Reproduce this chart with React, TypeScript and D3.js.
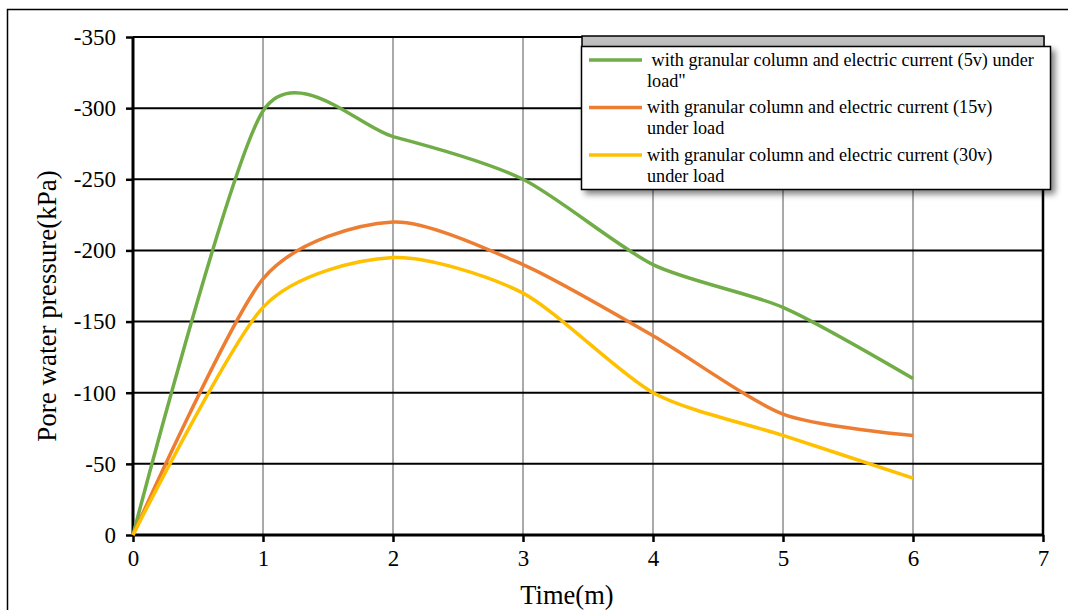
import React, { useRef, useEffect } from 'react';
import * as d3 from 'd3';

const times = [0, 1, 2, 3, 4, 5, 6];
const green5v = [0, -298, -280, -250, -190, -160, -110];
const orange15v = [0, -180, -220, -190, -140, -85, -70];
const yellow30v = [0, -160, -195, -170, -100, -70, -40];
const seriesNames = [
  [' with granular column and electric current (5v) under', 'load"'],
  ['with granular column and electric current (15v)', 'under load'],
  ['with granular column and electric current (30v)', 'under load'],
];
const seriesColors = ['#70ad47', '#ed7d31', '#ffc000'];
const xTicks = [0, 1, 2, 3, 4, 5, 6, 7];
const yTicks = [0, -50, -100, -150, -200, -250, -300, -350];

const App = () => {
  const svgRef = useRef<SVGSVGElement>(null);

  useEffect(() => {
    const svg = d3.select(svgRef.current);
    svg.selectAll('*').remove();
    const font = '"Liberation Serif", "Times New Roman", serif';

    const left = 133, right = 1043, top = 37, bottom = 535;
    const x = d3.scaleLinear().domain([0, 7]).range([left, right]);
    const y = d3.scaleLinear().domain([0, -350]).range([bottom, top]);

    // outer frame
    svg.append('path')
      .attr('d', `M7.5,620 L7.5,9.5 L1075,9.5`)
      .attr('fill', 'none').attr('stroke', '#000').attr('stroke-width', 1.5);

    // vertical grid
    svg.append('g').selectAll('line').data(xTicks.slice(1, -1)).join('line')
      .attr('x1', (d) => x(d)).attr('x2', (d) => x(d))
      .attr('y1', top).attr('y2', bottom)
      .attr('stroke', '#555').attr('stroke-width', 1);

    // horizontal grid
    svg.append('g').selectAll('line').data(yTicks.slice(1)).join('line')
      .attr('x1', left).attr('x2', right)
      .attr('y1', (d) => y(d)).attr('y2', (d) => y(d))
      .attr('stroke', '#000').attr('stroke-width', 2);

    // right border
    svg.append('line').attr('x1', right).attr('x2', right).attr('y1', top).attr('y2', bottom)
      .attr('stroke', '#000').attr('stroke-width', 2.5);

    // axes
    const fmt = (d: d3.NumberValue) => String(d);
    const xAxis = svg.append('g').attr('transform', `translate(0,${bottom})`)
      .call(d3.axisBottom(x).tickValues(xTicks).tickSize(7).tickPadding(8).tickFormat(fmt));
    const yAxis = svg.append('g').attr('transform', `translate(${left},0)`)
      .call(d3.axisLeft(y).tickValues(yTicks).tickSize(7).tickPadding(10).tickFormat(fmt));
    [xAxis, yAxis].forEach((g) => {
      g.select('.domain').attr('stroke-width', 3);
      g.selectAll('.tick line').attr('stroke-width', 2.5);
      g.selectAll('.tick text').attr('font-family', font).attr('font-size', 23).attr('fill', '#000');
    });
    xAxis.select('.domain').attr('d', `M${left},0H${right}`);
    yAxis.select('.domain').attr('d', `M0,${top}V${bottom}`);

    // titles
    svg.append('text').attr('x', 567).attr('y', 604)
      .attr('text-anchor', 'middle').attr('font-family', font).attr('font-size', 26.5)
      .text('Time(m)');
    svg.append('text').attr('transform', `translate(56,306) rotate(-90)`)
      .attr('text-anchor', 'middle').attr('font-family', font).attr('font-size', 27)
      .text('Pore water pressure(kPa)');

    // lines
    const allSeries = [green5v, orange15v, yellow30v];
    const line = d3.line<number>()
      .x((_, i) => x(times[i]))
      .y((d) => y(d))
      .curve(d3.curveCardinal.tension(0.25));
    allSeries.forEach((vals, i) => {
      svg.append('path').datum(vals).attr('d', line)
        .attr('fill', 'none').attr('stroke', seriesColors[i]).attr('stroke-width', 3.5)
        .attr('stroke-linejoin', 'round');
    });

    // legend
    const defs = svg.append('defs');
    const f = defs.append('filter').attr('id', 'shadow').attr('x', '-10%').attr('y', '-20%')
      .attr('width', '130%').attr('height', '150%');
    f.append('feGaussianBlur').attr('in', 'SourceAlpha').attr('stdDeviation', 3);
    f.append('feOffset').attr('dx', 4).attr('dy', 4).attr('result', 'b');
    f.append('feComponentTransfer').append('feFuncA').attr('type', 'linear').attr('slope', 0.5);
    const m = f.append('feMerge');
    m.append('feMergeNode');
    m.append('feMergeNode').attr('in', 'SourceGraphic');

    const lg = svg.append('g');
    lg.append('rect').attr('x', 582).attr('y', 36).attr('width', 462).attr('height', 150)
      .attr('fill', '#bfbfbf').attr('stroke', '#000').attr('stroke-width', 1.5);
    lg.append('rect').attr('x', 581.5).attr('y', 46.5).attr('width', 469).attr('height', 143)
      .attr('fill', '#fff').attr('stroke', '#000').attr('stroke-width', 1.5)
      .attr('filter', 'url(#shadow)');
    seriesNames.forEach((lines, i) => {
      const cy = 60 + i * 47.5;
      lg.append('line').attr('x1', 589).attr('x2', 642).attr('y1', cy).attr('y2', cy)
        .attr('stroke', seriesColors[i]).attr('stroke-width', 3.5);
      lines.forEach((t, j) => {
        lg.append('text').attr('x', 647).attr('y', cy + 5.5 + j * 21)
          .attr('font-family', font).attr('font-size', 18.2)
          .style('white-space', 'pre').text(t);
      });
    });
  }, []);

  return (
    <div>
      <svg ref={svgRef} width={1068} height={610}
        style={{ display: 'block', position: 'absolute', left: 0, top: 0 }} />
    </div>
  );
};

export default App;
